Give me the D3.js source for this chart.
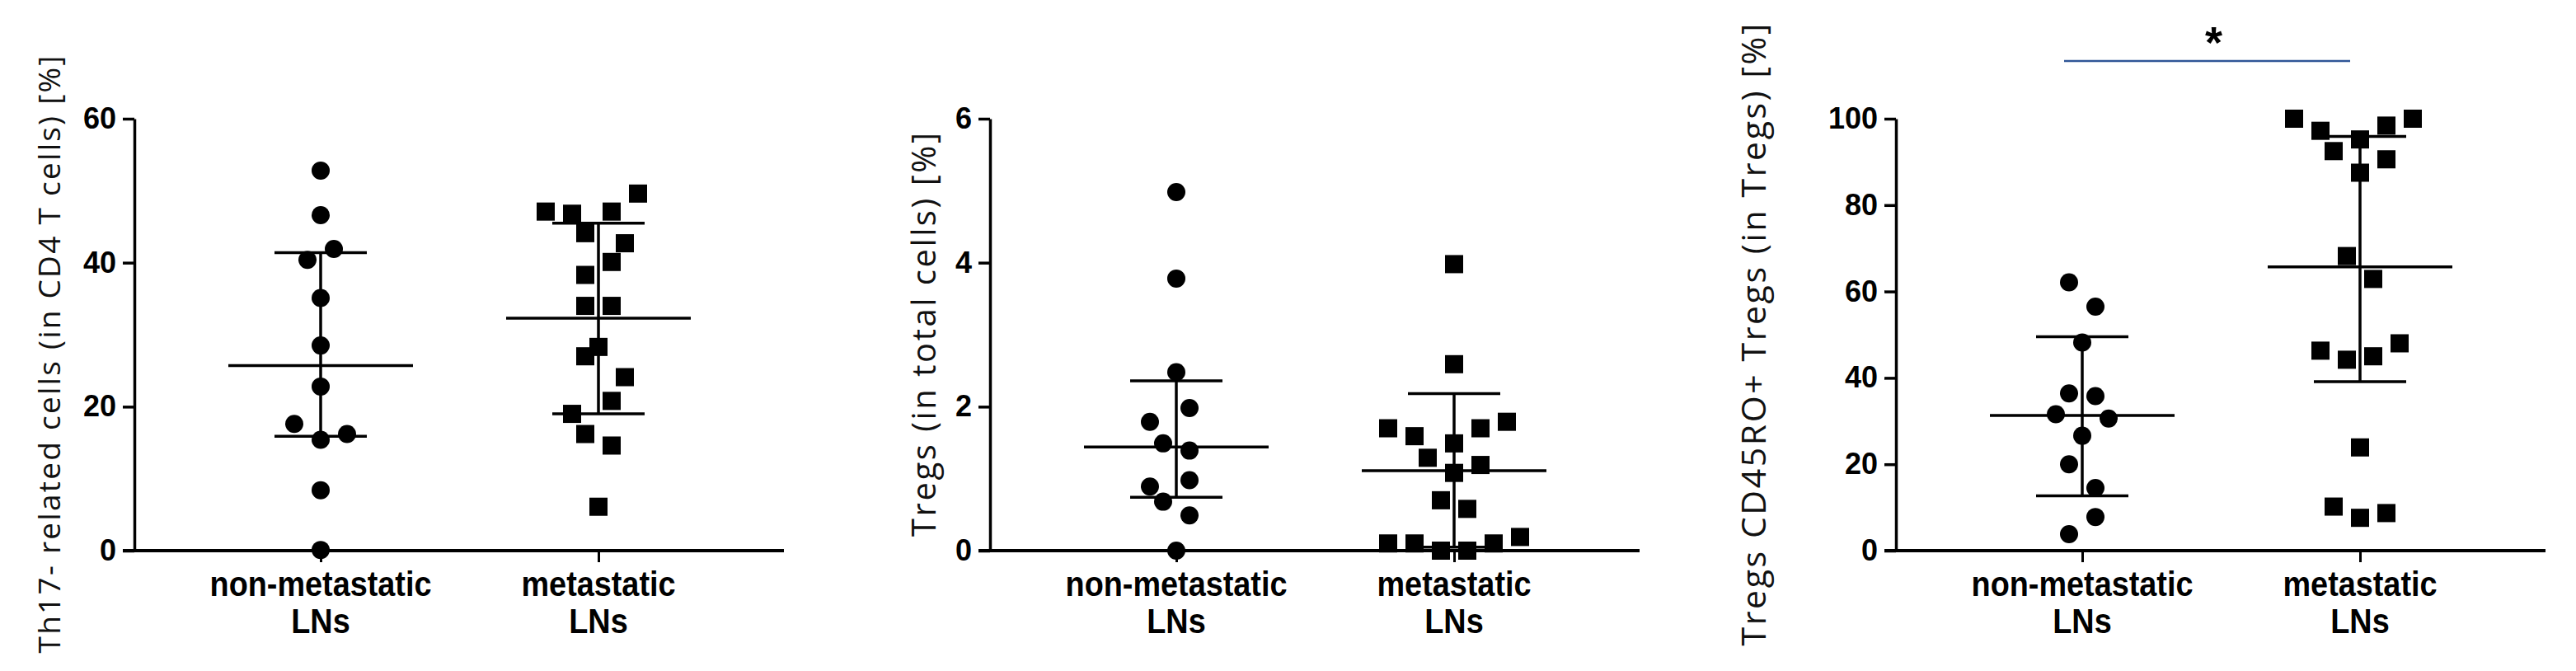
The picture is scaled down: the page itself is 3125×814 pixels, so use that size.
<!DOCTYPE html>
<html>
<head>
<meta charset="utf-8">
<script src="https://cdn.jsdelivr.net/npm/d3@7"></script>
<style>
  html, body { margin: 0; padding: 0; background: #fff; }
  svg { display: block; }
</style>
</head>
<body>
<div id="chart"></div>
<script>
// categories shared by all three panels
const categories = ['non-metastatic LNs', 'metastatic LNs'];
const categoryLines = [['non-metastatic', 'LNs'], ['metastatic', 'LNs']];

// Panel 1: Th17-related cells
const th17NonMet = [52.8, 46.6, 41.9, 40.4, 35.1, 28.5, 22.8, 17.6, 16.2, 15.4, 8.4, 0.1];
const th17NonMetSlot = [0, 0, 1, -1, 0, 0, 0, -2, 2, 0, 0, 0];
const th17Met = [47.1, 46.8, 47.1, 49.6, 44.1, 42.7, 40.1, 38.3, 34.0, 34.0, 28.3, 27.0, 24.1, 20.8, 19.0, 16.2, 14.6, 6.1];
const th17MetSlot = [-4, -2, 1, 3, -1, 2, 1, -1, -1, 1, 0, -1, 2, 1, -2, -1, 1, 0];
const th17Summary = [[25.7, 15.9, 41.4], [32.3, 19.0, 45.5]]; // [centre, low, high]
const th17Ticks = [0, 20, 40, 60];

// Panel 2: Tregs in total cells
const tregNonMet = [4.98, 3.78, 2.48, 1.98, 1.79, 1.49, 1.39, 0.98, 0.89, 0.68, 0.49, 0.0];
const tregNonMetSlot = [0, 0, 0, 1, -2, -1, 1, 1, -2, -1, 1, 0];
const tregMet = [3.98, 2.59, 1.79, 1.70, 1.70, 1.59, 1.49, 1.29, 1.19, 1.08, 0.70, 0.58, 0.10, 0.10, 0.0, 0.0, 0.10, 0.19];
const tregMetSlot = [0, 0, 4, -5, 2, -3, 0, -2, 2, 0, -1, 1, -5, -3, -1, 1, 3, 5];
const tregSummary = [[1.44, 0.74, 2.36], [1.11, 0.05, 2.18]];
const tregTicks = [0, 2, 4, 6];

// Panel 3: CD45RO+ Tregs in Tregs
const roNonMet = [62.1, 56.5, 48.2, 36.4, 35.8, 31.6, 30.6, 26.6, 20.0, 14.5, 7.8, 3.8];
const roNonMetSlot = [-1, 1, 0, -1, 1, -2, 2, 0, -1, 1, 1, -1];
const roMet = [100, 100, 98.4, 97.2, 95.2, 92.5, 90.6, 87.5, 68.2, 62.9, 48.0, 46.3, 45.0, 44.2, 23.9, 10.2, 8.7, 7.6];
const roMetSlot = [-5, 4, 2, -3, 0, -2, 2, 0, -1, 1, 3, -3, 1, -1, 0, -2, 2, 0];
const roSummary = [[31.3, 12.7, 49.5], [65.7, 39.1, 95.9]];
const roTicks = [0, 20, 40, 60, 80, 100];

const yLabels = [
  'Th17- related cells (in CD4 T cells) [%]',
  'Tregs (in total cells) [%]',
  'Tregs CD45RO+ Tregs (in Tregs) [%]'
];
const significance = [null, null, '*'];

const panels = [
  { values: [th17NonMet, th17Met], slots: [th17NonMetSlot, th17MetSlot], summary: th17Summary, ticks: th17Ticks },
  { values: [tregNonMet, tregMet], slots: [tregNonMetSlot, tregMetSlot], summary: tregSummary, ticks: tregTicks },
  { values: [roNonMet, roMet], slots: [roNonMetSlot, roMetSlot], summary: roSummary, ticks: roTicks }
];

// layout
const W = 3125, H = 814;
const panelLeft = [163, 1201, 2300];
const labelOffset = [-90, -66, -158];
const labelCenterY = [430, 406, 406];
const labelLength = [725, 490, 755];
const labelSize = [37, 40, 41];
const plotW = 788, yTop = 144, yBottom = 668;
const slotStep = 16;
const condense = 0.9;
const tickFont = '"Liberation Sans", Arial, sans-serif';
const labelFont = '"Open Sans", "Noto Sans", sans-serif';

const svg = d3.select('#chart').append('svg')
  .attr('width', W).attr('height', H)
  .attr('viewBox', `0 0 ${W} ${H}`);

svg.append('rect').attr('width', W).attr('height', H).attr('fill', '#fff');

// squeeze bold text horizontally to get the narrow look of the original
function narrow(sel) {
  sel.each(function () {
    const w = this.getComputedTextLength();
    d3.select(this).attr('textLength', w * condense).attr('lengthAdjust', 'spacingAndGlyphs');
  });
}

panels.forEach((p, i) => {
  const g = svg.append('g').attr('transform', `translate(${panelLeft[i]},0)`);

  const x = d3.scalePoint().domain(categories).range([226, 563]);
  const y = d3.scaleLinear().domain([0, d3.max(p.ticks)]).range([yBottom, yTop]);

  // y axis
  const yAxis = g.append('g')
    .call(d3.axisLeft(y).tickValues(p.ticks).tickFormat(d3.format('d'))
      .tickSize(14).tickSizeOuter(0).tickPadding(8));
  yAxis.select('.domain').attr('stroke', '#000').attr('stroke-width', 3.5);
  yAxis.selectAll('.tick line').attr('stroke', '#000').attr('stroke-width', 3.5);
  yAxis.selectAll('.tick text')
    .attr('fill', '#000')
    .style('font-family', tickFont)
    .style('font-size', '36px')
    .style('font-weight', 'bold');

  // x axis
  const xAxis = g.append('g')
    .attr('transform', `translate(0,${yBottom})`)
    .call(d3.axisBottom(x).tickSize(14).tickSizeOuter(0).tickFormat(''));
  xAxis.select('.domain').remove();
  xAxis.append('line')
    .attr('x1', -14).attr('x2', plotW)
    .attr('stroke', '#000').attr('stroke-width', 4);
  xAxis.selectAll('.tick line').attr('stroke', '#000').attr('stroke-width', 3);

  // category labels
  categories.forEach((c, ci) => {
    categoryLines[ci].forEach((line, li) => {
      g.append('text')
        .attr('x', x(c))
        .attr('y', 723 + li * 45)
        .attr('text-anchor', 'middle')
        .attr('fill', '#000')
        .style('font-family', tickFont)
        .style('font-size', '42px')
        .style('font-weight', 'bold')
        .text(line)
        .call(narrow);
    });
  });

  // y label
  g.append('text')
    .attr('transform', `translate(${labelOffset[i]},${labelCenterY[i]}) rotate(-90)`)
    .attr('text-anchor', 'middle')
    .attr('fill', '#111')
    .attr('textLength', labelLength[i])
    .attr('lengthAdjust', 'spacing')
    .style('font-family', labelFont)
    .style('font-size', labelSize[i] + 'px')
    .text(yLabels[i]);

  // summary bars (centre line, whiskers, caps)
  p.summary.forEach((s, ci) => {
    const cx = x(categories[ci]);
    const [mid, lo, hi] = s;
    const bar = g.append('g').attr('stroke', '#000').attr('stroke-width', 3.5);
    bar.append('line').attr('x1', cx).attr('x2', cx).attr('y1', y(lo)).attr('y2', y(hi));
    bar.append('line').attr('x1', cx - 112).attr('x2', cx + 112).attr('y1', y(mid)).attr('y2', y(mid));
    bar.append('line').attr('x1', cx - 56).attr('x2', cx + 56).attr('y1', y(lo)).attr('y2', y(lo));
    bar.append('line').attr('x1', cx - 56).attr('x2', cx + 56).attr('y1', y(hi)).attr('y2', y(hi));
  });

  // points: circles for non-metastatic, squares for metastatic
  const nonMet = p.values[0].map((v, k) => ({ v, s: p.slots[0][k] }));
  const met = p.values[1].map((v, k) => ({ v, s: p.slots[1][k] }));

  g.selectAll('circle.pt')
    .data(nonMet)
    .join('circle')
    .attr('class', 'pt')
    .attr('cx', d => x(categories[0]) + d.s * slotStep)
    .attr('cy', d => y(d.v))
    .attr('r', 11)
    .attr('fill', '#000');

  g.selectAll('rect.pt')
    .data(met)
    .join('rect')
    .attr('class', 'pt')
    .attr('x', d => x(categories[1]) + d.s * slotStep - 11)
    .attr('y', d => y(d.v) - 11)
    .attr('width', 22)
    .attr('height', 22)
    .attr('fill', '#000');

  // significance bracket
  if (significance[i]) {
    const x1 = x(categories[0]) - 22;
    const x2 = x(categories[1]) - 12;
    g.append('line')
      .attr('x1', x1).attr('x2', x2).attr('y1', 74).attr('y2', 74)
      .attr('stroke', '#2f5597').attr('stroke-width', 2.5);
    g.append('text')
      .attr('x', (x1 + x2) / 2 + 8)
      .attr('y', 70)
      .attr('text-anchor', 'middle')
      .attr('fill', '#000')
      .style('font-family', tickFont)
      .style('font-size', '54px')
      .style('font-weight', 'bold')
      .text(significance[i]);
  }
});
</script>
</body>
</html>
